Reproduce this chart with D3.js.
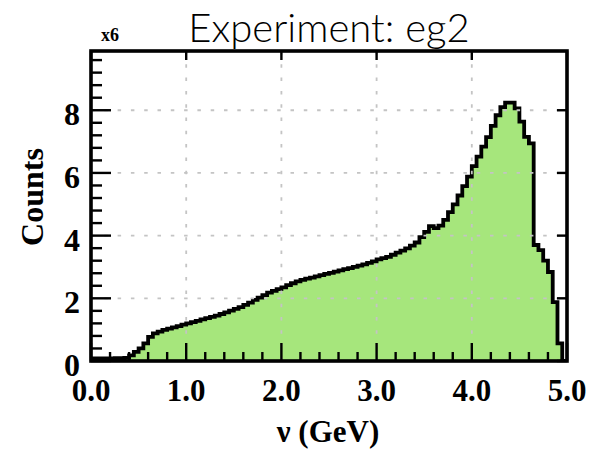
<!DOCTYPE html>
<html><head><meta charset="utf-8">
<script src="https://cdn.jsdelivr.net/npm/d3@7/dist/d3.min.js"></script>
<style>html,body{margin:0;padding:0;background:#fff;}svg{display:block;}</style>
</head><body>
<svg id="c" width="592" height="449"></svg>
<script>
// ---- data (counts in units of 10^6, 100 bins from 0 to 5 GeV) ----
const binLow = 0.0, binHigh = 5.0;
const counts = [
  0.08,0.08,0.08,0.08,0.08,0.09,0.09,0.10,0.18,0.29,
  0.40,0.56,0.77,0.88,0.94,0.99,1.03,1.07,1.11,1.16,
  1.20,1.24,1.28,1.33,1.37,1.41,1.45,1.50,1.55,1.61,
  1.66,1.72,1.79,1.86,1.95,2.02,2.10,2.18,2.24,2.29,
  2.35,2.42,2.48,2.54,2.59,2.63,2.66,2.70,2.74,2.78,
  2.81,2.85,2.89,2.93,2.96,3.00,3.04,3.08,3.13,3.18,
  3.24,3.28,3.32,3.39,3.46,3.52,3.59,3.68,3.78,3.95,
  4.12,4.30,4.24,4.32,4.50,4.75,5.00,5.28,5.58,5.88,
  6.22,6.52,6.84,7.14,7.50,7.84,8.10,8.24,8.24,8.06,
  7.64,7.15,6.94,3.70,3.54,3.20,2.84,1.88,0.56,0.00
];
const xTicks = [0,1,2,3,4,5];
const xTickLabels = ["0.0","1.0","2.0","3.0","4.0","5.0"];
const yTicks = [0,2,4,6,8];
const yTickLabels = ["0","2","4","6","8"];
const yMax = 9.89;
const title = "Experiment: eg2";
const xTitle = "\u03BD (GeV)";
const yTitle = "Counts";
const yExp = "x6";

const L = 91, R = 567, T = 51, B = 361;
const svg = d3.select("#c");
const x = d3.scaleLinear().domain([binLow, binHigh]).range([L, R]);
const y = d3.scaleLinear().domain([0, yMax]).range([B, T]);

const nb = counts.length, bw = (binHigh - binLow) / nb;
const pts = counts.map((v, i) => ({e: binLow + i * bw, v}));
pts.push({e: binHigh, v: counts[nb - 1]});

svg.append("clipPath").attr("id","clip").append("rect")
  .attr("x", L).attr("y", T).attr("width", R - L).attr("height", B - T);

const g = svg.append("g").attr("clip-path","url(#clip)");
g.append("path").datum(pts)
  .attr("d", d3.area().curve(d3.curveStepAfter).x(d => x(d.e)).y0(y(0)).y1(d => y(d.v)))
  .attr("fill", "#a6e67c");

// grid
const grid = svg.append("g").attr("stroke", "#c4c4c4").attr("stroke-width", 1.8)
  .attr("stroke-dasharray", "3.5 9.8");
xTicks.slice(1, -1).forEach(t => grid.append("line")
  .attr("x1", x(t)).attr("x2", x(t)).attr("y1", T).attr("y2", B));
yTicks.slice(1).forEach(t => grid.append("line")
  .attr("x1", L).attr("x2", R).attr("y1", y(t)).attr("y2", y(t)));

// outline
g.append("path").datum(pts)
  .attr("d", d3.line().curve(d3.curveStepAfter).x(d => x(d.e)).y(d => y(d.v)))
  .attr("fill", "none").attr("stroke", "#000").attr("stroke-width", 3.8)
  .attr("stroke-linejoin", "miter");

// ticks
const tk = svg.append("g").attr("stroke", "#000").attr("stroke-width", 2.4);
d3.range(0, 5.0001, 0.2).forEach(t => {
  const major = Math.abs(t - Math.round(t)) < 1e-6;
  tk.append("line").attr("x1", x(t)).attr("x2", x(t))
    .attr("y1", B).attr("y2", B - (major ? 18 : 9));
  if (major) tk.append("line").attr("x1", x(t)).attr("x2", x(t))
    .attr("y1", T).attr("y2", T + 9);
});
d3.range(0, yMax, 0.4).forEach(t => {
  const major = Math.abs(t / 2 - Math.round(t / 2)) < 1e-6;
  tk.append("line").attr("x1", L).attr("x2", L + (major ? 20 : 11))
    .attr("y1", y(t)).attr("y2", y(t));
  if (major) tk.append("line").attr("x1", R).attr("x2", R - 10)
    .attr("y1", y(t)).attr("y2", y(t));
});

// frame
svg.append("rect").attr("x", L).attr("y", T).attr("width", R - L).attr("height", B - T)
  .attr("fill", "none").attr("stroke", "#000").attr("stroke-width", 3.6);

const serif = "'Liberation Serif','Times New Roman',serif";
// tick labels
svg.append("g").selectAll("text").data(xTicks).join("text")
  .attr("x", d => x(d)).attr("y", 401).attr("text-anchor", "middle")
  .attr("font-family", serif).attr("font-weight", "bold").attr("font-size", 31)
  .text((d, i) => xTickLabels[i]);
svg.append("g").selectAll("text").data(yTicks).join("text")
  .attr("x", 80).attr("y", d => y(d) + 15).attr("text-anchor", "end")
  .attr("font-family", serif).attr("font-weight", "bold").attr("font-size", 32)
  .text((d, i) => yTickLabels[i]);

// titles
svg.append("text").attr("x", 328).attr("y", 442).attr("text-anchor", "middle")
  .attr("font-family", serif).attr("font-weight", "bold").attr("font-size", 31).text(xTitle);
svg.append("text").attr("transform", "translate(43,197) rotate(-90)").attr("text-anchor", "middle")
  .attr("font-family", serif).attr("font-weight", "bold").attr("font-size", 32).text(yTitle);
svg.append("text").attr("x", 101).attr("y", 41)
  .attr("font-family", serif).attr("font-weight", "bold").attr("font-size", 18).text(yExp);
svg.append("text").attr("x", 329).attr("y", 42).attr("text-anchor", "middle")
  .attr("font-family", "Lato, 'Open Sans', sans-serif").attr("font-weight", 300).attr("font-size", 40)
  .text(title);
</script>
</body></html>
